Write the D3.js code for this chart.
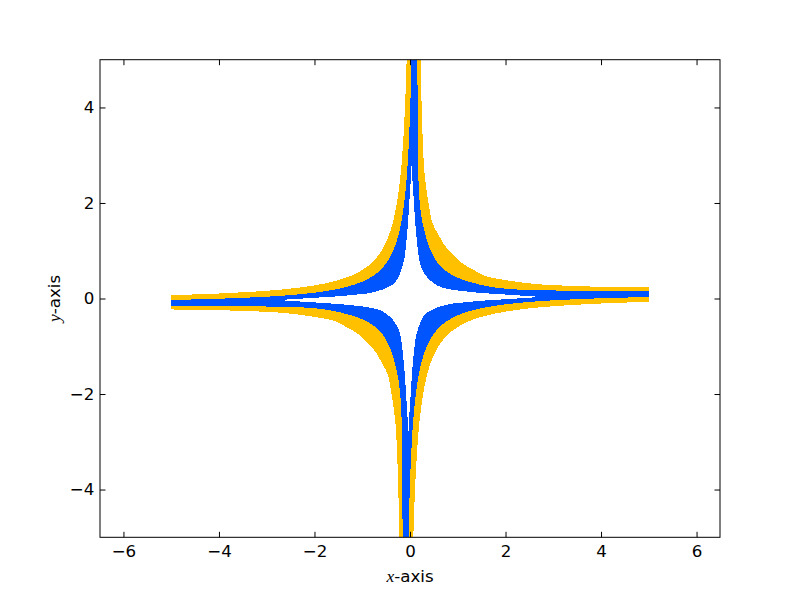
<!DOCTYPE html>
<html><head><meta charset="utf-8">
<script src="https://cdn.jsdelivr.net/npm/d3@7"></script>
<style>body{margin:0;background:#fff}</style>
</head><body>
<svg id="c" width="800" height="597"></svg>
<script>
// ---- data ----
const xTicks = [-6,-4,-2,0,2,4,6];
const yTicks = [-4,-2,0,2,4];
const xLabel = "-axis", yLabel = "-axis";
const yellowColor = "#ffc000", blueColor = "#0055ff";

// upper-right branch (top -> right)
const urOut = [[0.22,5],[0.245,4],[0.28,3],[0.31,2.56],[0.37,2.1],[0.42,1.8],[0.45,1.64],[0.52,1.47],[0.6,1.33],[0.7,1.15],[0.8,1.02],[0.91,0.91],[1.02,0.8],[1.15,0.7],[1.33,0.6],[1.47,0.52],[1.64,0.45],[1.8,0.42],[2.1,0.37],[2.56,0.31],[3,0.28],[4,0.245],[5,0.23]];
const urBlue = [[0.155,5],[0.16,4],[0.168,3],[0.175,2.56],[0.19,2.2],[0.215,1.9],[0.26,1.6],[0.32,1.35],[0.387,1.12],[0.46,0.95],[0.53,0.82],[0.6,0.72],[0.665,0.665],[0.72,0.6],[0.82,0.53],[0.95,0.46],[1.12,0.387],[1.35,0.32],[1.6,0.26],[1.9,0.215],[2.2,0.19],[2.56,0.175],[3,0.168],[4,0.16],[5,0.155]];
const urIn = [[0.03,2.8],[0.05,2.5],[0.07,2.2],[0.095,1.8],[0.12,1.45],[0.15,1.15],[0.18,0.9],[0.22,0.7],[0.28,0.56],[0.4,0.4],[0.56,0.28],[0.7,0.22],[0.9,0.18],[1.15,0.15],[1.45,0.12],[1.8,0.095],[2.2,0.07],[2.5,0.05],[2.8,0.03]];
// lower-right branch (right -> bottom)
const lrOut = [[5,-0.07],[4,-0.105],[3,-0.162],[2.5,-0.207],[2,-0.274],[1.6,-0.357],[1.3,-0.45],[1.1,-0.539],[0.9,-0.665],[0.774,-0.774],[0.665,-0.9],[0.539,-1.1],[0.45,-1.3],[0.357,-1.6],[0.274,-2],[0.207,-2.5],[0.162,-3],[0.105,-4],[0.07,-5]];
const lrBlue = [[5,0.031],[4,0.005],[3,-0.038],[2.5,-0.072],[2,-0.122],[1.6,-0.182],[1.3,-0.249],[1.0,-0.351],[0.8,-0.456],[0.7,-0.527],[0.608,-0.608],[0.527,-0.7],[0.456,-0.8],[0.351,-1.0],[0.249,-1.3],[0.182,-1.6],[0.122,-2],[0.072,-2.5],[0.038,-3],[-0.005,-4],[-0.031,-5]];
const lrIn = [[2.8,0.03],[2.5,0.018],[2.3,0.004],[2.0,-0.015],[1.6,-0.04],[1.3,-0.065],[1.0,-0.095],[0.87,-0.11],[0.63,-0.17],[0.52,-0.21],[0.42,-0.26],[0.32,-0.32],[0.26,-0.42],[0.21,-0.52],[0.17,-0.63],[0.11,-0.87],[0.095,-1.0],[0.065,-1.3],[0.04,-1.6],[0.015,-2.0],[-0.004,-2.3],[-0.018,-2.5],[-0.03,-2.8]];
// lower-left branch (bottom -> left)
const llOut = [[-0.22,-5],[-0.245,-4],[-0.28,-3],[-0.31,-2.56],[-0.37,-2.1],[-0.42,-1.8],[-0.45,-1.64],[-0.52,-1.47],[-0.6,-1.33],[-0.7,-1.15],[-0.8,-1.02],[-0.91,-0.91],[-1.02,-0.8],[-1.15,-0.7],[-1.33,-0.6],[-1.47,-0.52],[-1.64,-0.45],[-1.8,-0.42],[-2.1,-0.37],[-2.56,-0.31],[-3,-0.28],[-4,-0.245],[-5,-0.23]];
const llBlue = [[-0.155,-5],[-0.16,-4],[-0.168,-3],[-0.175,-2.56],[-0.19,-2.2],[-0.215,-1.9],[-0.26,-1.6],[-0.32,-1.35],[-0.387,-1.12],[-0.46,-0.95],[-0.53,-0.82],[-0.6,-0.72],[-0.665,-0.665],[-0.72,-0.6],[-0.82,-0.53],[-0.95,-0.46],[-1.12,-0.387],[-1.35,-0.32],[-1.6,-0.26],[-1.9,-0.215],[-2.2,-0.19],[-2.56,-0.175],[-3,-0.168],[-4,-0.16],[-5,-0.155]];
const llIn = [[-0.03,-2.8],[-0.05,-2.5],[-0.07,-2.2],[-0.095,-1.8],[-0.12,-1.45],[-0.15,-1.15],[-0.18,-0.9],[-0.22,-0.7],[-0.28,-0.56],[-0.4,-0.4],[-0.56,-0.28],[-0.7,-0.22],[-0.9,-0.18],[-1.15,-0.15],[-1.45,-0.12],[-1.8,-0.095],[-2.2,-0.07],[-2.5,-0.05],[-2.8,-0.03]];
// upper-left branch (left -> top)
const ulOut = [[-5,0.07],[-4,0.105],[-3,0.162],[-2.5,0.207],[-2,0.274],[-1.6,0.357],[-1.3,0.45],[-1.1,0.539],[-0.9,0.665],[-0.774,0.774],[-0.665,0.9],[-0.539,1.1],[-0.45,1.3],[-0.357,1.6],[-0.274,2],[-0.207,2.5],[-0.162,3],[-0.105,4],[-0.07,5]];
const ulBlue = [[-5,-0.031],[-4,-0.005],[-3,0.038],[-2.5,0.072],[-2,0.122],[-1.6,0.182],[-1.3,0.249],[-1.0,0.351],[-0.8,0.456],[-0.7,0.527],[-0.608,0.608],[-0.527,0.7],[-0.456,0.8],[-0.351,1.0],[-0.249,1.3],[-0.182,1.6],[-0.122,2],[-0.072,2.5],[-0.038,3],[0.005,4],[0.031,5]];
const ulIn = [[-2.8,-0.03],[-2.5,-0.018],[-2.3,-0.004],[-2.0,0.015],[-1.6,0.04],[-1.3,0.065],[-1.0,0.095],[-0.87,0.11],[-0.63,0.17],[-0.52,0.21],[-0.42,0.26],[-0.32,0.32],[-0.26,0.42],[-0.21,0.52],[-0.17,0.63],[-0.11,0.87],[-0.095,1.0],[-0.065,1.3],[-0.04,1.6],[-0.015,2.0],[0.004,2.3],[0.018,2.5],[0.03,2.8]];

// ---- layout ----
const L=100, R=720, T=59.7, B=537.3;
const svg = d3.select("#c");
const x = d3.scaleLinear().domain([-6.491,6.491]).range([L,R]);
const y = d3.scaleLinear().domain([-5,5]).range([B,T]);
const FS = 16.67;
const font = "'DejaVu Sans', sans-serif";

svg.append("defs").append("clipPath").attr("id","clip")
  .append("rect").attr("x",L).attr("y",T).attr("width",R-L).attr("height",B-T);

const lineC = d3.line().x(d=>x(d[0])).y(d=>y(d[1])).curve(d3.curveCatmullRom.alpha(0.5));
const ringPath = curves => curves.map((c,i)=>{const s=lineC(c); return i===0? s : "L"+s.slice(1);}).join("")+"Z";
const plot = svg.append("g").attr("clip-path","url(#clip)");
plot.append("path").attr("d", ringPath([urOut,lrOut,llOut,ulOut]))
  .attr("fill",yellowColor).attr("shape-rendering","crispEdges");
plot.append("path").attr("d", ringPath([urBlue,lrBlue,llBlue,ulBlue]))
  .attr("fill",blueColor).attr("shape-rendering","crispEdges");
plot.append("path").attr("d", ringPath([urIn,lrIn,llIn,ulIn]))
  .attr("fill","#ffffff").attr("shape-rendering","crispEdges");

// ---- axes ----
const TS = 5.5;
function styleAxis(g){
  g.select(".domain").remove();
  g.selectAll(".tick line").attr("stroke","#000").attr("stroke-width",1);
  g.selectAll("text").attr("font-family",font).attr("font-size",FS).attr("fill","#000");
}
svg.append("g").attr("transform",`translate(0,${B})`)
  .call(d3.axisBottom(x).tickValues(xTicks).tickSizeInner(-TS).tickSizeOuter(0).tickPadding(8))
  .call(styleAxis);
svg.append("g").attr("transform",`translate(0,${T})`)
  .call(d3.axisTop(x).tickValues(xTicks).tickSizeInner(-TS).tickSizeOuter(0).tickFormat(""))
  .call(styleAxis);
svg.append("g").attr("transform",`translate(${L},0)`)
  .call(d3.axisLeft(y).tickValues(yTicks).tickSizeInner(-TS).tickSizeOuter(0).tickPadding(5.6))
  .call(styleAxis);
svg.append("g").attr("transform",`translate(${R},0)`)
  .call(d3.axisRight(y).tickValues(yTicks).tickSizeInner(-TS).tickSizeOuter(0).tickFormat(""))
  .call(styleAxis);

svg.append("rect").attr("x",L).attr("y",T).attr("width",R-L).attr("height",B-T)
  .attr("fill","none").attr("stroke","#000").attr("stroke-width",1);

// axis labels
const xl = svg.append("text").attr("x",(L+R)/2).attr("y",581.5).attr("text-anchor","middle")
  .attr("font-family",font).attr("font-size",FS);
xl.append("tspan").attr("font-family","'Liberation Serif', serif").attr("font-style","italic").attr("font-size",FS*1.05).text("x");
xl.append("tspan").text(xLabel);
const yl = svg.append("text").attr("transform",`translate(60,${(T+B)/2}) rotate(-90)`).attr("text-anchor","middle")
  .attr("font-family",font).attr("font-size",FS);
yl.append("tspan").attr("font-family","'Liberation Serif', serif").attr("font-style","italic").attr("font-size",FS*1.05).text("y");
yl.append("tspan").text(yLabel);
</script>
</body></html>
